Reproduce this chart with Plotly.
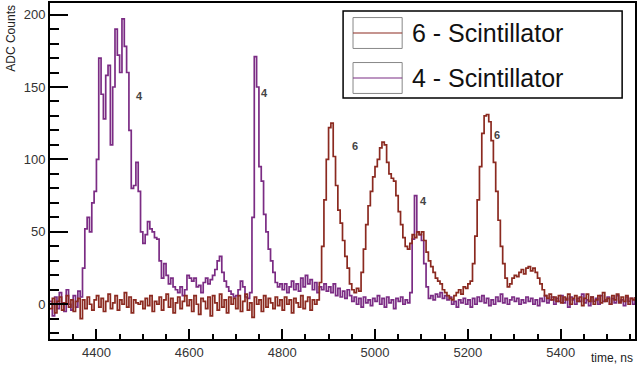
import plotly.graph_objects as go

# time grid of the readout, 5 ns per bin
time_ns = list(range(4300, 5565, 5))

# 4 - Scintillator (ADC counts)
scint4 = (
    [2, -8, 5, -3, 8, 1, -5, 10, 0, -4, 6, -2, 9, 5, 25, 52, 60, 50, 70, 78]
    + [100, 170, 145, 128, 158, 165, 110, 150, 190, 172, 160, 197, 178, 160, 120, 80, 82, 98, 78, 50]
    + [42, 48, 57, 52, 50, 46, 45, 30, 18, 28, 20, 14, 18, 12, 10, 8, 12, 6, 10, 20]
    + [18, 16, 18, 12, 13, 8, 15, 18, 14, 17, 20, 24, 30, 33, 22, 16, 12, 9, 7, 5]
    + [6, 10, 16, 12, 5, 4, 8, 60, 171, 150, 95, 85, 62, 50, 38, 30, 22, 15, 12, 14]
    + [10, 14, 8, 12, 16, 10, 14, 9, 18, 12, 20, 14, 17, 10, 15, 8, 12, 10, 14, 9]
    + [12, 8, 14, 6, 11, 5, 9, 4, 10, 6, 2, 5, 0, 4, -2, 5, 1, 3, -1, 4]
    + [2, 6, 0, 4, -2, 5, 1, 3, -3, 4, 2, 5, 0, 3, 1, 8, 45, 75, 50, 48]
    + [44, 28, 12, 4, 6, 3, 7, 5, 8, 4, 6, 3, 5, 0, 2, -2, 3, 1, 4, 0]
    + [3, -2, 4, 0, 5, 2, 6, 1, 4, -1, 3, 0, 5, 2, 7, 1, 4, 0, 3, 5]
    + [2, 4, 0, 3, 1, 5, 2, 4, 0, 3, -1, 4, 2, 6, 1, 3, 5, 0, 4, 2]
    + [6, 1, 4, -2, 5, 3, 0, 4, 2, 7, 1, 3, -1, 5, 2, 4, 0, 6, 2, 3]
    + [5, 0, 4, 1, 6, 2, 3, -1, 5, 2, 4, 0, 3]
)

# 6 - Scintillator (ADC counts)
scint6 = (
    [-3, 4, -6, 2, 5, -4, 1, 6, -2, 3, -5, 2, 4, -10, 3, -3, 5, 0, -4, 3]
    + [6, -2, 4, -5, 2, 7, -3, 1, 6, -4, 3, 0, 8, -2, 5, -6, 3, 1, 0, 2]
    + [-3, 4, -1, 6, -5, 2, 0, 5, -4, 3, 7, -2, 4, -6, 1, 5, -3, 2, 6, -1]
    + [3, -5, 6, 0, -7, 4, 2, -3, 5, -8, 6, 1, -4, 7, -2, 3, -6, 5, 0, 4]
    + [-3, 6, -5, 2, 7, -4, 1, -9, 5, 0, 3, -5, 6, -2, 4, 1, -3, 5, -1, 3]
    + [-4, 5, 0, 3, -6, 4, 1, -2, 6, -3, 2, 5, -4, 3, 0, 3, 15, 40, 72, 100]
    + [122, 125, 102, 82, 65, 56, 44, 33, 25, 14, 10, 8, 11, 9, 22, 38, 55, 68, 78, 88]
    + [95, 100, 108, 112, 110, 98, 90, 87, 85, 75, 64, 55, 46, 40, 38, 42, 48, 46, 50, 48]
    + [50, 44, 36, 30, 26, 22, 18, 16, 14, 10, 8, 6, 4, 3, 6, 8, 10, 7, 12, 11]
    + [14, 16, 28, 47, 72, 95, 118, 130, 131, 126, 113, 98, 78, 58, 40, 28, 18, 12, 14, 18]
    + [20, 19, 22, 24, 21, 25, 26, 23, 25, 22, 18, 14, 10, 6, 4, 7, 3, 5, 2, 6]
    + [1, 5, 3, 7, 0, 4, 6, 2, 5, -1, 4, 7, 2, 5, 0, 3, 6, 1, 8, 2]
    + [4, 0, 6, 3, 7, 1, 5, 2, 6, 0, 4, 3, 5]
)

# peak labels
label_t = [4493, 4761, 4957, 5104, 5263]
label_v = [144, 146, 109, 71, 117]
label_txt = ["4", "4", "6", "4", "6"]

PURPLE = "#7b2c84"
RED = "#8b2a20"

fig = go.Figure()
fig.add_trace(go.Scatter(x=time_ns, y=scint4, mode="lines", line_shape="hv",
                         line=dict(color=PURPLE, width=1.7), name="4 - Scintillator"))
fig.add_trace(go.Scatter(x=time_ns, y=scint6, mode="lines", line_shape="hv",
                         line=dict(color=RED, width=1.7), name="6 - Scintillator"))

for t, v, s in zip(label_t, label_v, label_txt):
    fig.add_annotation(x=t, y=v, text="<b>%s</b>" % s, showarrow=False,
                       font=dict(size=11, color="#444"))

fig.add_annotation(text="time, ns", xref="paper", yref="paper", x=1, y=-0.056,
                   xanchor="right", yanchor="middle", showarrow=False,
                   font=dict(size=12, color="#222"))
fig.add_annotation(text="ADC Counts", xref="paper", yref="paper", x=-0.068, y=1,
                   xanchor="center", yanchor="top", textangle=-90, showarrow=False,
                   font=dict(size=12, color="#222"))

# ROOT style legend box: frame, grey symbol boxes with the line colour, label
fig.add_shape(type="rect", xref="paper", yref="paper", x0=0.501, x1=0.978,
              y0=0.717, y1=0.976, line=dict(color="black", width=1.5), fillcolor="white")
legend_rows = [(0.9107, RED, "6 - Scintillator"), (0.7768, PURPLE, "4 - Scintillator")]
for yc, col, name in legend_rows:
    fig.add_shape(type="rect", xref="paper", yref="paper", x0=0.518, x1=0.602,
                  y0=yc - 0.046, y1=yc + 0.046, line=dict(color="#888", width=1),
                  fillcolor="white")
    fig.add_shape(type="line", xref="paper", yref="paper", x0=0.518, x1=0.602,
                  y0=yc, y1=yc, line=dict(color=col, width=1.2))
    fig.add_annotation(text=name, xref="paper", yref="paper", x=0.616, y=yc,
                       xanchor="left", yanchor="middle", showarrow=False,
                       font=dict(size=25, color="#111"))

axis_common = dict(showline=True, linewidth=2, linecolor="black", mirror=True,
                   showgrid=False, zeroline=False, ticks="inside", tickcolor="black",
                   tickwidth=1.5, tickfont=dict(size=13, color="#333"), automargin=False)

fig.update_xaxes(range=[4300, 5560], dtick=200, tick0=0, ticklen=10,
                 minor=dict(dtick=50, tick0=0, ticks="inside", ticklen=5, tickcolor="black"),
                 **axis_common)
fig.update_yaxes(range=[-24, 208], dtick=50, tick0=0, ticklen=18,
                 minor=dict(dtick=10, tick0=0, ticks="inside", ticklen=9, tickcolor="black"),
                 **axis_common)

fig.update_layout(
    width=639, height=369,
    margin=dict(l=50, r=4, t=3, b=30, autoexpand=False),
    plot_bgcolor="white", paper_bgcolor="white",
    font=dict(family="Liberation Sans, Arial, sans-serif"),
    showlegend=False,
)

fig.write_html("out.html", config={"displayModeBar": False},
               post_script="document.body.style.margin='0';")
